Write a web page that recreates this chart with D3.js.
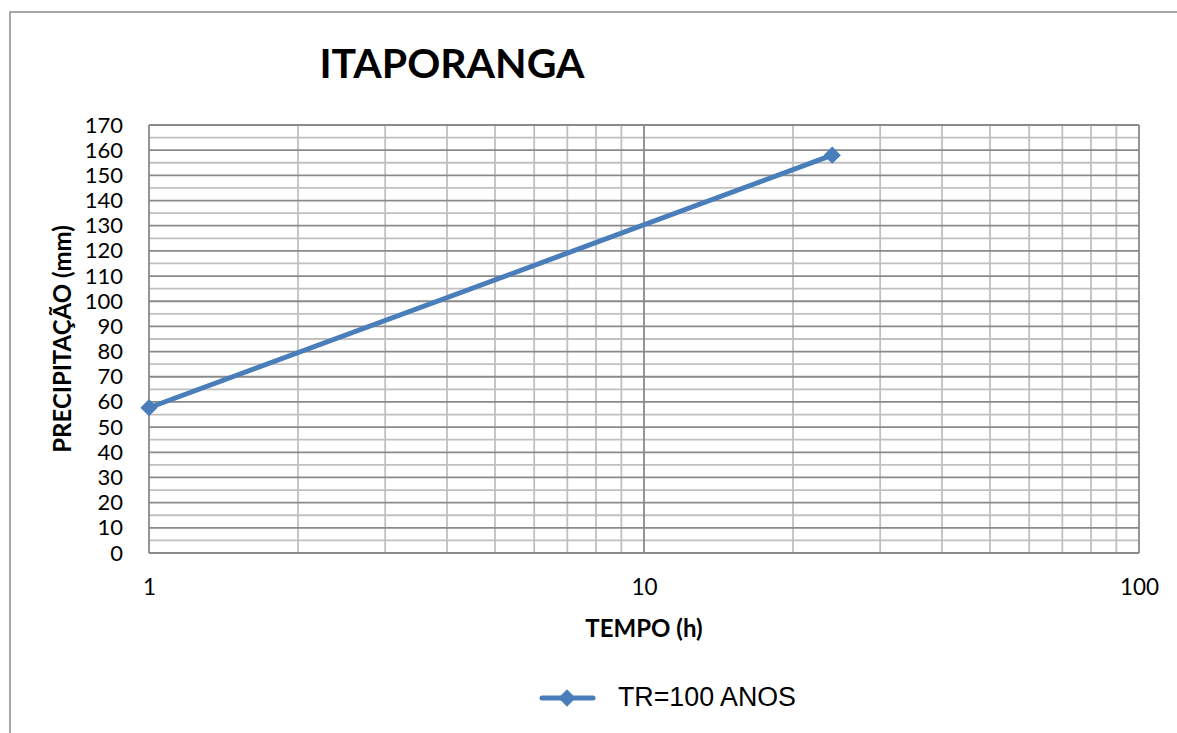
<!DOCTYPE html>
<html>
<head>
<meta charset="utf-8">
<script src="https://cdn.jsdelivr.net/npm/d3@7"></script>
<style>
  body { margin: 0; background: #fff; }
  svg { display: block; }
</style>
</head>
<body>
<div class="grafic"></div>
<script>
// dados da curva (TR = 100 anos)
const tempo = [1, 24];            // horas
const precipitacao = [57.7, 158]; // mm
const serieNome = "TR=100 ANOS";
const titulo = "ITAPORANGA";
const yTicks = d3.range(0, 171, 10);
const xTicksMajor = [1, 10, 100];

const w = 1177, h = 733;
const pLeft = 149, pRight = 1139, pTop = 125, pBottom = 553;

let svg = d3.select(".grafic")
    .append("svg")
    .attr("width", w)
    .attr("height", h);

// moldura externa do grafico
svg.append("rect")
    .attr("x", 10).attr("y", 12)
    .attr("width", 1200).attr("height", 760)
    .attr("fill", "#fff")
    .attr("stroke", "#8c8c8c")
    .attr("stroke-width", 1.5);

let xScale = d3.scaleLog()
    .domain([1, 100])
    .range([pLeft, pRight]);

let yScale = d3.scaleLinear()
    .domain([0, 170])
    .range([pBottom, pTop]);

// grade secundaria
let minorX = [];
for (let d = 1; d < 100; d *= 10)
    for (let k = 2; k <= 9; k++) minorX.push(d * k);
let minorY = d3.range(5, 170, 10);

let grid = svg.append("g");
grid.selectAll(".mx").data(minorX).enter().append("line")
    .attr("x1", d => xScale(d)).attr("x2", d => xScale(d))
    .attr("y1", pTop).attr("y2", pBottom)
    .attr("stroke", "#c0c0c0").attr("stroke-width", 1.8);
grid.selectAll(".my").data(minorY).enter().append("line")
    .attr("x1", pLeft).attr("x2", pRight)
    .attr("y1", d => yScale(d)).attr("y2", d => yScale(d))
    .attr("stroke", "#c0c0c0").attr("stroke-width", 1.8);

// grade principal
grid.selectAll(".Mx").data(xTicksMajor).enter().append("line")
    .attr("x1", d => xScale(d)).attr("x2", d => xScale(d))
    .attr("y1", pTop).attr("y2", pBottom)
    .attr("stroke", "#8a8a8a").attr("stroke-width", 1.8);
grid.selectAll(".My").data(yTicks).enter().append("line")
    .attr("x1", pLeft).attr("x2", pRight)
    .attr("y1", d => yScale(d)).attr("y2", d => yScale(d))
    .attr("stroke", "#8a8a8a").attr("stroke-width", 1.8);

// eixos (somente rotulos)
let yAxis = d3.axisLeft(yScale).tickValues(yTicks).tickSize(0).tickPadding(26);
svg.append("g")
    .attr("transform", "translate(" + pLeft + ",0)")
    .call(yAxis)
    .call(g => g.select(".domain").remove())
    .selectAll("text")
    .attr("font-family", "Lato, sans-serif")
    .attr("font-size", 22)
    .attr("fill", "#000");

let xAxis = d3.axisBottom(xScale).tickValues(xTicksMajor).tickFormat(d3.format("d")).tickSize(0).tickPadding(26);
svg.append("g")
    .attr("transform", "translate(0," + pBottom + ")")
    .call(xAxis)
    .call(g => g.select(".domain").remove())
    .selectAll("text")
    .attr("font-family", "Lato, sans-serif")
    .attr("font-size", 22.5)
    .attr("fill", "#000");

// serie
let dataset = tempo.map((t, i) => [t, precipitacao[i]]);
let line = d3.line()
    .x(d => xScale(d[0]))
    .y(d => yScale(d[1]));

svg.append("path")
    .datum(dataset)
    .attr("d", line)
    .attr("fill", "none")
    .attr("stroke", "#4a7ebb")
    .attr("stroke-width", 5)
    .attr("stroke-linecap", "round");

let diamond = d3.symbol().type(d3.symbolDiamond2).size(190);
svg.selectAll(".pt").data(dataset).enter().append("path")
    .attr("d", diamond)
    .attr("transform", d => "translate(" + xScale(d[0]) + "," + yScale(d[1]) + ")")
    .attr("fill", "#4a7ebb");

// titulos
svg.append("text")
    .attr("x", 452).attr("y", 78)
    .attr("text-anchor", "middle")
    .attr("font-family", "Lato, sans-serif")
    .attr("font-weight", "bold")
    .attr("font-size", 41)
    .text(titulo);

svg.append("text")
    .attr("x", 644).attr("y", 637)
    .attr("text-anchor", "middle")
    .attr("font-family", "Lato, sans-serif")
    .attr("font-weight", "bold")
    .attr("font-size", 24)
    .text("TEMPO (h)");

svg.append("text")
    .attr("transform", "translate(71," + ((pTop + pBottom) / 2) + ") rotate(-90)")
    .attr("text-anchor", "middle")
    .attr("font-family", "Lato, sans-serif")
    .attr("font-weight", "bold")
    .attr("font-size", 24)
    .text("PRECIPITAÇÃO (mm)");

// legenda
let leg = svg.append("g");
leg.append("line")
    .attr("x1", 542).attr("x2", 593)
    .attr("y1", 698).attr("y2", 698)
    .attr("stroke", "#4a7ebb").attr("stroke-width", 5)
    .attr("stroke-linecap", "round");
leg.append("path")
    .attr("d", diamond)
    .attr("transform", "translate(567,698)")
    .attr("fill", "#4a7ebb");
leg.append("text")
    .attr("x", 618).attr("y", 706)
    .attr("font-family", "Liberation Sans, Arial, sans-serif")
    .attr("font-size", 26.8)
    .text(serieNome);
</script>
</body>
</html>
